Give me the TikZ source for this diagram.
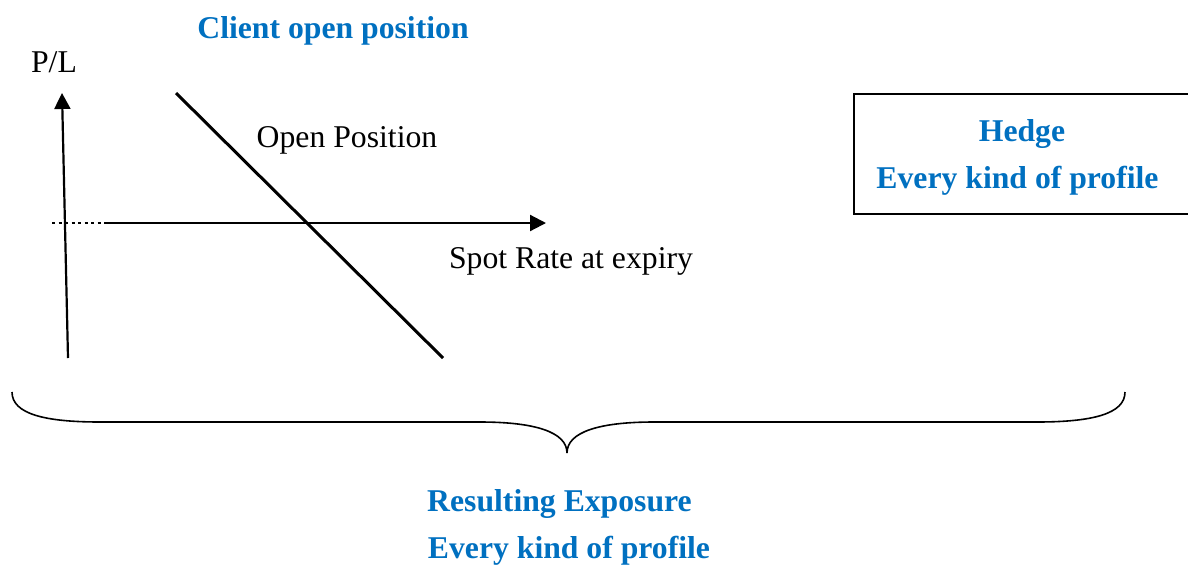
\documentclass[tikz,border=0pt]{standalone}
\usepackage{fontspec}
\setmainfont{Liberation Serif}
\usetikzlibrary{arrows.meta}
\definecolor{wblue}{RGB}{0,112,192}
\tikzset{
  lbl/.style={anchor=base, inner sep=0pt, font=\fontsize{31.7}{38}\selectfont},
  blbl/.style={lbl, text=wblue, font=\fontsize{31.7}{38}\selectfont\bfseries},
  axis/.style={line width=2.2pt, -{Triangle[length=16pt,width=16pt]}},
  dotline/.style={line width=2.5pt, dash pattern=on 3pt off 3.5pt},
  posline/.style={line width=3pt},
  bracestyle/.style={line width=1.6pt},
  boxstyle/.style={line width=2pt}
}
\begin{document}
\begin{tikzpicture}[x=1pt,y=-1pt]
\useasboundingbox (0,0) rectangle (1188,566);
\clip (0,0) rectangle (1188,566);
% texts
\node[blbl] (title) at (333,38) {Client open position};
\node[lbl] (pl) at (54,72) {P/L};
\node[lbl] (open) at (347,147) {Open Position};
\node[lbl] (spot) at (571,268) {Spot Rate at expiry};
\node[blbl] (hedge) at (1022,141) {Hedge};
\node[blbl] (hedge2) at (1017.5,188) {Every kind of profile};
\node[blbl] (res) at (559.5,511) {Resulting Exposure};
\node[blbl] (res2) at (569,558) {Every kind of profile};
% axes
\coordinate (ybot) at (68,358);
\coordinate (ytop) at (62,93);
\coordinate (xdot) at (52,223);
\coordinate (xsol) at (105,223);
\coordinate (xend) at (546,223);
\draw[axis] (ybot) -- (ytop);
\draw[dotline] (xdot) -- (xsol);
\draw[axis] (xsol) -- (xend);
% open position line
\coordinate (p1) at (176,93);
\coordinate (p2) at (443,358);
\draw[posline] (p1) -- (p2);
% hedge box
\coordinate (bx1) at (854,94);
\coordinate (bx2) at (1200,214);
\draw[boxstyle] (bx1) rectangle (bx2);
% brace
\coordinate (bl) at (12,392);
\coordinate (bt) at (567,453);
\coordinate (br) at (1125,392);
\draw[bracestyle] (bl) .. controls (12,414) and (45,422) .. (100,422)
  -- (480,422) .. controls (535,422) and (567,432) .. (bt)
  .. controls (567,432) and (599,422) .. (654,422)
  -- (1037,422) .. controls (1092,422) and (1125,414) .. (br);
\end{tikzpicture}
\end{document}
